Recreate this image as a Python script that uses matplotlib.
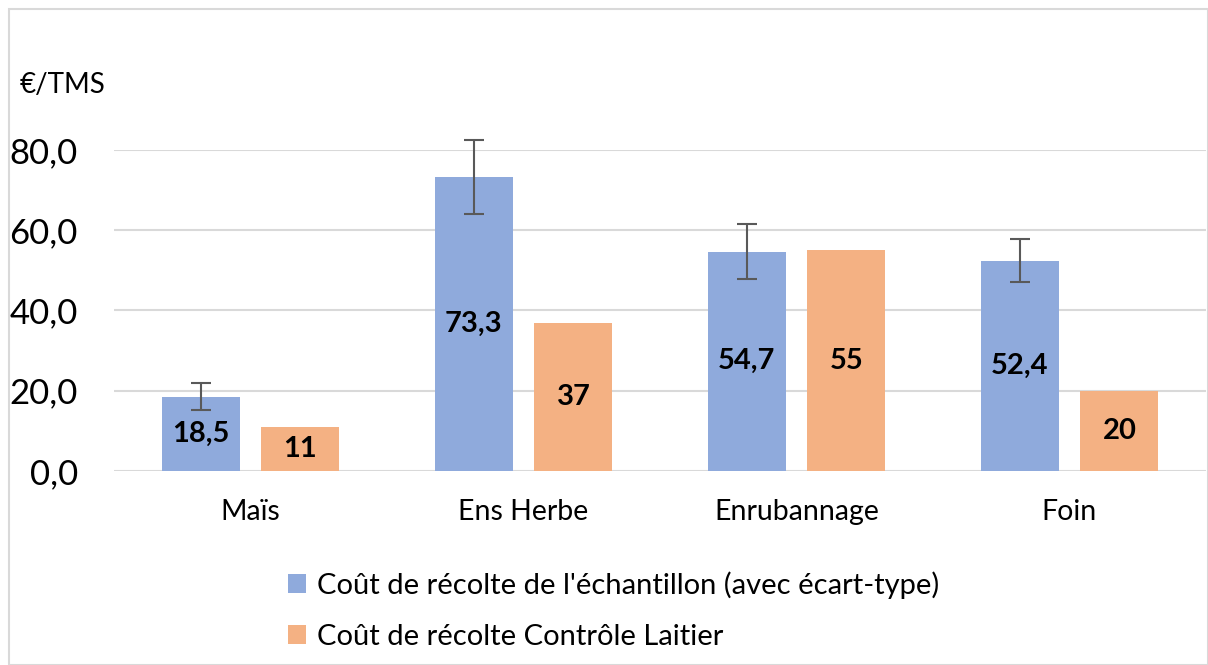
import matplotlib.pyplot as plt
import numpy as np
from matplotlib.patches import Rectangle

plt.rcParams['font.family'] = ['Lato', 'DejaVu Sans']

categories = ['Maïs', 'Ens Herbe', 'Enrubannage', 'Foin']
cout_echantillon = [18.5, 73.3, 54.7, 52.4]
ecart_type = [3.4, 9.2, 6.85, 5.3]
cout_cl = [11, 37, 55, 20]
labels_echantillon = ['18,5', '73,3', '54,7', '52,4']
labels_cl = ['11', '37', '55', '20']
series_names = ["Coût de récolte de l'échantillon (avec écart-type)",
                "Coût de récolte Contrôle Laitier"]

blue = '#8FAADC'
orange = '#F4B183'

fig = plt.figure(figsize=(12.08, 6.65), dpi=100)
ax = fig.add_axes([114 / 1208, 1 - 471 / 665, 1092 / 1208, 321 / 665])

x = np.arange(len(categories))
w = 0.286
off = 0.183
b1 = ax.bar(x - off, cout_echantillon, w, color=blue, zorder=2,
            label=series_names[0])
b2 = ax.bar(x + off, cout_cl, w, color=orange, zorder=2,
            label=series_names[1])
eb = ax.errorbar(x - off, cout_echantillon, yerr=ecart_type, fmt='none',
                 ecolor='#595959', elinewidth=1.5, capsize=7, capthick=1.5,
                 zorder=3)
for art in eb.lines[1] + eb.lines[2]:
    art.set_clip_on(False)

ax.bar_label(b1, labels=labels_echantillon, label_type='center',
             fontsize=21, fontweight='bold')
ax.bar_label(b2, labels=labels_cl, label_type='center',
             fontsize=21, fontweight='bold')

ax.set_xlim(-0.5, len(categories) - 0.5)
ax.set_ylim(0, 80)
ax.set_yticks([0, 20, 40, 60, 80])
ax.set_yticklabels(['0,0', '20,0', '40,0', '60,0', '80,0'], fontsize=25)
ax.set_xticks(x)
ax.set_xticklabels(categories, fontsize=20.5)
ax.tick_params(axis='both', length=0)
ax.tick_params(axis='y', pad=26)
ax.tick_params(axis='x', pad=20)
ax.grid(axis='y', color='#D9D9D9', linewidth=1.5, zorder=0)
for s in ax.spines.values():
    s.set_visible(False)

fig.text(20 / 1208, 1 - 85 / 665, '€/TMS', fontsize=20, va='center')

fig.legend(handles=[b1, b2], loc='upper left',
           bbox_to_anchor=(262 / 1208, 1 - 545 / 665), ncol=1,
           frameon=False, fontsize=21, handlelength=0.6, handleheight=0.6,
           handletextpad=0.4, labelspacing=0.85)

fig.patches.append(Rectangle((9 / 1208, 0), 1 - 9 / 1208, 1 - 9 / 665,
                             transform=fig.transFigure, fill=False,
                             edgecolor='#D9D9D9', linewidth=1.5))

fig.savefig('out.png', dpi=100)
